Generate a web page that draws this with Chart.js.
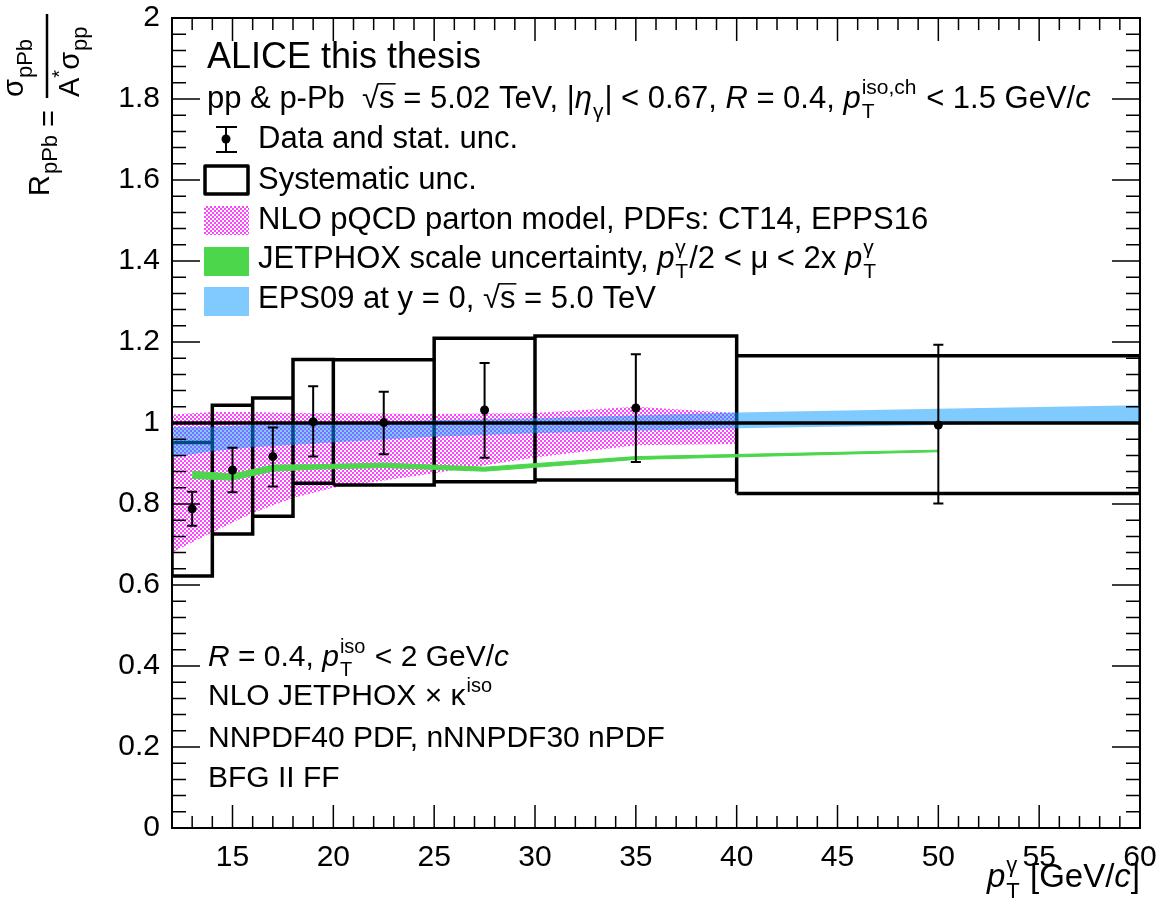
<!DOCTYPE html>
<html>
<head>
<meta charset="utf-8">
<script src="https://cdn.jsdelivr.net/npm/chart.js@4.4.1/dist/chart.umd.min.js"></script>
<style>
  html, body { margin: 0; padding: 0; background: #fff; }
  canvas { display: block; }
</style>
</head>
<body>
<canvas id="rpa" width="1161" height="909"></canvas>
<script>
// pT bins of the measurement
const xLow = [12, 14, 16, 18, 20, 25, 30, 40];
const xHigh = [14, 16, 18, 20, 25, 30, 40, 60];
const ptCenter = [13, 15, 17, 19, 22.5, 27.5, 35, 50];
const rpPb = [0.788, 0.884, 0.917, 1.003, 1.001, 1.032, 1.037, 0.995];
const statLow = [0.746, 0.829, 0.843, 0.917, 0.923, 0.914, 0.904, 0.801];
const statHigh = [0.830, 0.939, 0.989, 1.091, 1.077, 1.148, 1.170, 1.193];
const sysLow = [0.622, 0.726, 0.770, 0.851, 0.847, 0.855, 0.859, 0.826];
const sysHigh = [0.952, 1.044, 1.062, 1.157, 1.156, 1.209, 1.215, 1.166];

// NLO pQCD parton model band
const nloPt = [12, 14, 16, 18, 20, 25, 30, 35, 40];
const nloLow = [0.680, 0.730, 0.778, 0.815, 0.840, 0.876, 0.915, 0.945, 0.948];
const nloHigh = [1.021, 1.027, 1.027, 1.025, 1.024, 1.022, 1.025, 1.040, 1.025];

// JETPHOX scale uncertainty band
const jetPt = [13, 15, 17, 19, 22.5, 27.5, 35, 50];
const jetLow = [0.863, 0.859, 0.881, 0.886, 0.890, 0.881, 0.910, 0.929];
const jetHigh = [0.881, 0.874, 0.896, 0.897, 0.901, 0.891, 0.917, 0.933];

// EPS09 band
const epsPt = [12, 14, 16, 20, 25, 30, 40, 50, 60];
const epsLow = [0.915, 0.930, 0.940, 0.952, 0.966, 0.975, 0.987, 0.995, 1.003];
const epsHigh = [0.990, 0.991, 0.995, 1.000, 1.007, 1.012, 1.026, 1.035, 1.044];

const unity = [1, 1];
const unityPt = [12, 60];

const FF = '"Liberation Sans", Arial, Helvetica, sans-serif';
const CAP = 0.25; // half width of the stat. error caps, in GeV/c

const pts = (xs, ys) => xs.map((x, i) => ({ x: x, y: ys[i] }));

const boxPts = [];
xLow.forEach((xl, i) => {
    const xh = xHigh[i];
    boxPts.push({ x: xl, y: sysLow[i] }, { x: xl, y: sysHigh[i] }, { x: xh, y: sysHigh[i] },
        { x: xh, y: sysLow[i] }, { x: xl, y: sysLow[i] }, { x: xh, y: null });
});

const errPts = [];
ptCenter.forEach((x, i) => {
    errPts.push({ x: x, y: statLow[i] }, { x: x, y: statHigh[i] }, { x: x, y: null },
        { x: x - CAP, y: statHigh[i] }, { x: x + CAP, y: statHigh[i] }, { x: x, y: null },
        { x: x - CAP, y: statLow[i] }, { x: x + CAP, y: statLow[i] }, { x: x, y: null });
});

const canvas = document.getElementById('rpa');
const ctx0 = canvas.getContext('2d');

function checker(color) {
    const c = document.createElement('canvas');
    c.width = 4; c.height = 4;
    const g = c.getContext('2d');
    g.fillStyle = color;
    g.fillRect(0, 0, 2, 2);
    g.fillRect(2, 2, 2, 2);
    return ctx0.createPattern(c, 'repeat');
}
const pinkPattern = checker('#ff44ff');
const GREEN = '#4cd64c';
const BLUE = 'rgba(0,150,255,0.5)';
const NONE = 'rgba(0,0,0,0)';

const band = (data, fill, bg, order, bc, bw) => ({
    data: data, fill: fill, backgroundColor: bg, borderColor: bc || NONE, borderWidth: bw || 0,
    pointRadius: 0, tension: 0, order: order
});

// draw text with italic / sub / sup pieces
function rich(ctx, x, y, parts, size) {
    for (const p of parts) {
        if (typeof p === 'string') {
            ctx.font = size + 'px ' + FF;
            ctx.fillText(p, x, y);
            x += ctx.measureText(p).width;
            continue;
        }
        let w = 0;
        ctx.font = (p.it ? 'italic ' : '') + size + 'px ' + FF;
        if (p.sqrt) {
            ctx.font = size + 'px ' + FF;
            ctx.fillText('\u221A', x, y);
            const wr = ctx.measureText('\u221A').width;
            ctx.fillText(p.sqrt, x + wr, y);
            const ws = ctx.measureText(p.sqrt).width;
            ctx.save();
            ctx.lineWidth = 1.5;
            ctx.beginPath();
            ctx.moveTo(x + wr - 1, y - size * 0.78);
            ctx.lineTo(x + wr + ws + 1, y - size * 0.78);
            ctx.stroke();
            ctx.restore();
            x += wr + ws;
            continue;
        }
        if (p.t) {
            ctx.fillText(p.t, x, y);
            w = ctx.measureText(p.t).width;
        }
        let sw = 0;
        const ss = Math.round(size * 0.68);
        ctx.font = ss + 'px ' + FF;
        if (p.sup) {
            ctx.fillText(p.sup, x + w + 1, y - size * 0.45);
            sw = Math.max(sw, ctx.measureText(p.sup).width);
        }
        if (p.sub) {
            ctx.fillText(p.sub, x + w + 1, y + size * 0.33);
            sw = Math.max(sw, ctx.measureText(p.sub).width);
        }
        x += w + (sw ? sw + 2 : 0);
    }
    return x;
}

function richWidth(ctx, parts, size) {
    ctx.save();
    ctx.fillStyle = NONE;
    ctx.strokeStyle = NONE;
    const w = rich(ctx, 0, -1000, parts, size);
    ctx.restore();
    return w;
}

const rootFrame = {
    id: 'rootFrame',
    afterDraw(chart) {
        const ctx = chart.ctx;
        const ca = chart.chartArea;
        const xs = chart.scales.x, ys = chart.scales.y;
        ctx.save();
        ctx.strokeStyle = '#000';
        ctx.fillStyle = '#000';

        // frame
        ctx.lineWidth = 2;
        ctx.strokeRect(ca.left, ca.top, ca.right - ca.left, ca.bottom - ca.top);

        // ticks on all four sides
        ctx.lineWidth = 1.5;
        ctx.beginPath();
        for (let v = 12; v <= 60; v++) {
            const px = xs.getPixelForValue(v);
            const len = v % 5 === 0 ? 23 : 12;
            ctx.moveTo(px, ca.bottom); ctx.lineTo(px, ca.bottom - len);
            ctx.moveTo(px, ca.top); ctx.lineTo(px, ca.top + len);
        }
        for (let i = 0; i <= 50; i++) {
            const py = ys.getPixelForValue(i * 0.04);
            const len = i % 5 === 0 ? 28 : 14;
            ctx.moveTo(ca.left, py); ctx.lineTo(ca.left + len, py);
            ctx.moveTo(ca.right, py); ctx.lineTo(ca.right - len, py);
        }
        ctx.stroke();

        ctx.textAlign = 'left';
        ctx.textBaseline = 'alphabetic';
        const S = 31;

        // header
        ctx.font = '36px ' + FF;
        ctx.fillText('ALICE this thesis', 207, 68);
        rich(ctx, 207, 108, ['pp & p-Pb  ', { sqrt: 's' }, ' = 5.02 TeV, |', { t: '\u03B7', it: true, sub: '\u03B3' },
            '| < 0.67, ', { t: 'R', it: true }, ' = 0.4, ', { t: 'p', it: true, sub: 'T', sup: 'iso,ch' },
            ' < 1.5 GeV/', { t: 'c', it: true }], S);

        // legend
        const lx = 258;
        rich(ctx, lx, 148, ['Data and stat. unc.'], S);
        rich(ctx, lx, 189, ['Systematic unc.'], S);
        rich(ctx, lx, 229, ['NLO pQCD parton model, PDFs: CT14, EPPS16'], S);
        rich(ctx, lx, 268, ['JETPHOX scale uncertainty, ', { t: 'p', it: true, sub: 'T', sup: '\u03B3' },
            '/2 < \u03BC < 2x ', { t: 'p', it: true, sub: 'T', sup: '\u03B3' }], S);
        rich(ctx, lx, 308, ['EPS09 at y = 0, ', { sqrt: 's' }, ' = 5.0 TeV'], S);

        // legend symbols
        ctx.lineWidth = 2;
        ctx.beginPath();
        ctx.moveTo(226, 127); ctx.lineTo(226, 152);
        ctx.moveTo(216, 127); ctx.lineTo(237, 127);
        ctx.moveTo(216, 152); ctx.lineTo(237, 152);
        ctx.stroke();
        ctx.beginPath();
        ctx.arc(226, 139, 4.5, 0, Math.PI * 2);
        ctx.fill();
        ctx.lineWidth = 3.5;
        ctx.lineJoin = 'round';
        ctx.strokeRect(205, 166, 43, 28);
        ctx.fillStyle = pinkPattern;
        ctx.fillRect(204, 206, 45, 29);
        ctx.fillStyle = GREEN;
        ctx.fillRect(204, 247, 45, 29);
        ctx.fillStyle = '#80caff';
        ctx.fillRect(204, 287, 45, 29);
        ctx.fillStyle = '#000';

        // model description
        const S2 = 30;
        rich(ctx, 208, 666, [{ t: 'R', it: true }, ' = 0.4, ', { t: 'p', it: true, sub: 'T', sup: 'iso' }, ' < 2 GeV/', { t: 'c', it: true }], S2);
        rich(ctx, 208, 705, ['NLO JETPHOX \u00D7 ', { t: '\u03BA', sup: 'iso' }], S2);
        rich(ctx, 208, 747, ['NNPDF40 PDF, nNNPDF30 nPDF'], S2);
        rich(ctx, 208, 787, ['BFG II FF'], S2);

        // x title, right aligned to the frame
        const xt = [{ t: 'p', it: true, sub: 'T', sup: '\u03B3' }, ' [GeV/', { t: 'c', it: true }, ']'];
        const xw = richWidth(ctx, xt, 33);
        ctx.fillStyle = '#000';
        ctx.strokeStyle = '#000';
        rich(ctx, ca.right - xw, 887, xt, 33);

        // y title, rotated
        ctx.save();
        ctx.rotate(-Math.PI / 2);
        ctx.font = '29px ' + FF;
        ctx.fillText('R', -196, 49);
        const wR = ctx.measureText('R').width;
        ctx.font = '22px ' + FF;
        ctx.fillText('pPb', -196 + wR + 1, 57);
        ctx.font = '29px ' + FF;
        ctx.fillText('=', -127, 58);
        // numerator
        ctx.fillText('\u03C3', -97, 23);
        const wS = ctx.measureText('\u03C3').width;
        ctx.font = '22px ' + FF;
        ctx.fillText('pPb', -97 + wS + 1, 32);
        // bar
        ctx.lineWidth = 2.5;
        ctx.beginPath();
        ctx.moveTo(-98, 47); ctx.lineTo(-14, 47);
        ctx.stroke();
        // denominator
        ctx.font = '29px ' + FF;
        ctx.fillText('A', -97, 79);
        const wA = ctx.measureText('A').width;
        ctx.font = '20px ' + FF;
        ctx.fillText('*', -97 + wA, 66);
        const wStar = ctx.measureText('*').width;
        ctx.font = '29px ' + FF;
        ctx.fillText('\u03C3', -97 + wA + wStar, 79);
        ctx.font = '22px ' + FF;
        ctx.fillText('pp', -97 + wA + wStar + wS + 1, 87);
        ctx.restore();

        ctx.restore();
    }
};

const tickFont = { family: FF, size: 30 };

new Chart(canvas, {
    type: 'line',
    data: {
        datasets: [
            band(pts(nloPt, nloLow), false, NONE, 10),
            band(pts(nloPt, nloHigh), '-1', pinkPattern, 10),
            {
                data: boxPts, borderColor: '#000', borderWidth: 3.5, pointRadius: 0, fill: false,
                tension: 0, spanGaps: false, borderJoinStyle: 'miter', order: 9
            },
            band(pts(epsPt, epsLow), false, NONE, 8),
            band(pts(epsPt, epsHigh), '-1', BLUE, 8),
            band(pts(jetPt, jetLow), false, NONE, 7, GREEN, 1),
            band(pts(jetPt, jetHigh), '-1', GREEN, 7, GREEN, 1),
            {
                data: pts(unityPt, unity), borderColor: '#000', borderWidth: 3.5, pointRadius: 0,
                fill: false, order: 2
            },
            {
                data: errPts, borderColor: '#000', borderWidth: 2, pointRadius: 0, fill: false,
                tension: 0, spanGaps: false, order: 1
            },
            {
                data: pts(ptCenter, rpPb), showLine: false, pointRadius: 4.5, pointBorderWidth: 0,
                pointBackgroundColor: '#000', borderColor: '#000', fill: false, order: 0
            }
        ]
    },
    options: {
        responsive: false,
        devicePixelRatio: 1,
        animation: false,
        layout: { padding: { top: 18, right: 21, left: 0, bottom: 0 } },
        plugins: { legend: { display: false }, tooltip: { enabled: false } },
        scales: {
            x: {
                type: 'linear', min: 12, max: 60,
                grid: { display: false, drawTicks: false },
                border: { display: false },
                ticks: {
                    stepSize: 5, autoSkip: false, maxRotation: 0, padding: 12,
                    color: '#000', font: tickFont,
                    callback: (v) => (v % 5 === 0 ? String(v) : null)
                },
                afterFit: (s) => { s.height = 81; s.paddingLeft = 0; s.paddingRight = 0; }
            },
            y: {
                type: 'linear', min: 0, max: 2,
                grid: { display: false, drawTicks: false },
                border: { display: false },
                ticks: {
                    stepSize: 0.2, padding: 12, color: '#000', font: tickFont,
                    callback: (v) => String(+v.toFixed(1))
                },
                afterFit: (s) => { s.width = 172; s.paddingTop = 0; s.paddingBottom = 0; }
            }
        }
    },
    plugins: [rootFrame]
});
</script>
</body>
</html>
